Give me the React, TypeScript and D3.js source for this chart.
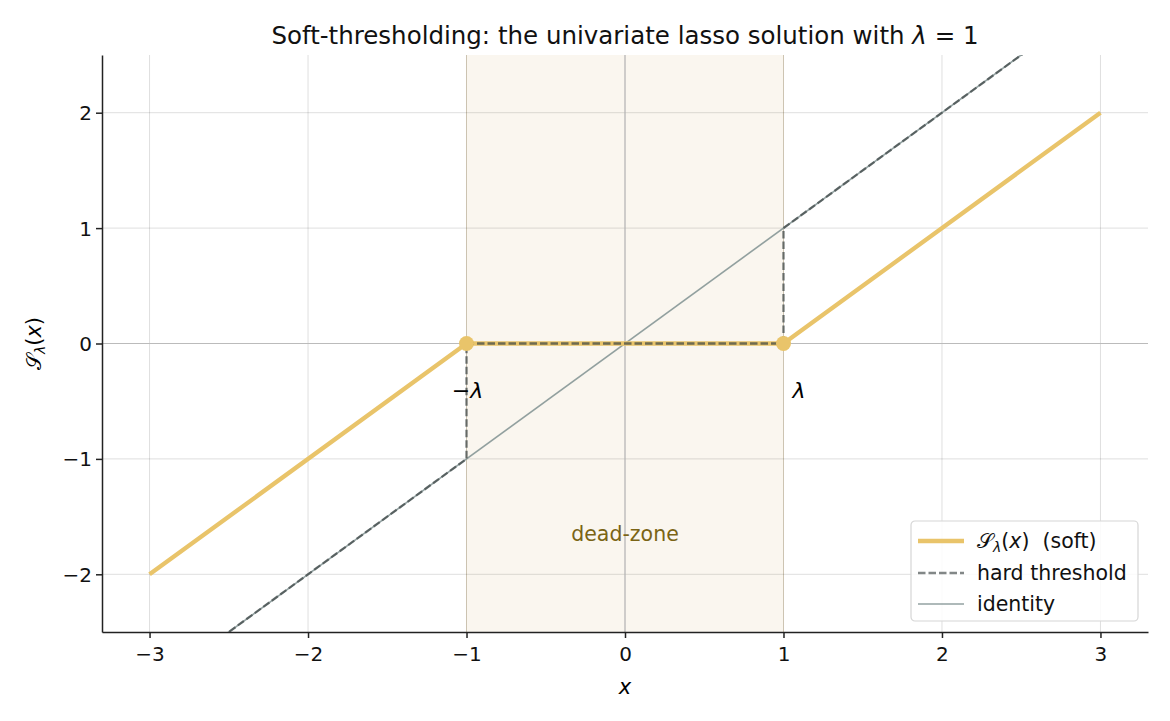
import * as d3 from "d3";
import React, { useEffect, useRef } from "react";

// data
const lambda = 1;
const xTicks = [-3, -2, -1, 0, 1, 2, 3];
const yTicks = [-2, -1, 0, 1, 2];
const softPoints = [
  [-3, -2],
  [-1, 0],
  [1, 0],
  [3, 2],
];
const hardLeft = [
  [-3.3, -3.3],
  [-1, -1],
  [-1, 0],
];
const hardMid = [
  [-1, 0],
  [1, 0],
];
const hardRight = [
  [1, 0],
  [1, 1],
  [3.3, 3.3],
];
const identityPoints = [
  [-3.3, -3.3],
  [3.3, 3.3],
];
const knots = [-lambda, lambda];

const W = 1170;
const H = 721;

export default function App() {
  const ref = useRef<SVGSVGElement>(null);

  useEffect(() => {
    const svg = d3.select(ref.current);
    svg.selectAll("*").remove();
    const margin = { top: 55, right: 22, bottom: 89, left: 102 };
    const width = W - margin.left - margin.right;
    const height = H - margin.top - margin.bottom;
    const font = "DejaVu Sans, sans-serif";

    const x = d3.scaleLinear().domain([-3.3, 3.3]).range([0, width]);
    const y = d3.scaleLinear().domain([-2.5, 2.5]).range([height, 0]);

    svg
      .append("defs")
      .append("clipPath")
      .attr("id", "plot-clip")
      .append("rect")
      .attr("width", width)
      .attr("height", height);

    const main = svg
      .append("g")
      .attr("transform", `translate(${margin.left},${margin.top})`);

    // dead zone shading
    main
      .append("rect")
      .attr("x", x(-lambda))
      .attr("y", 0)
      .attr("width", x(lambda) - x(-lambda))
      .attr("height", height)
      .attr("fill", "#faf6ef")
      .attr("stroke", "none");
    knots.forEach((k) => {
      main
        .append("line")
        .attr("x1", x(k))
        .attr("x2", x(k))
        .attr("y1", 0)
        .attr("y2", height)
        .attr("stroke", "#ebe1cc")
        .attr("stroke-width", 1);
    });

    // grid
    const grid = main.append("g").attr("class", "grid");
    grid
      .selectAll(".gx")
      .data(xTicks)
      .enter()
      .append("line")
      .attr("x1", (d) => x(d))
      .attr("x2", (d) => x(d))
      .attr("y1", 0)
      .attr("y2", height)
      .attr("stroke", "#000")
      .attr("stroke-opacity", 0.13)
      .attr("stroke-width", 1);
    grid
      .selectAll(".gy")
      .data(yTicks)
      .enter()
      .append("line")
      .attr("x1", 0)
      .attr("x2", width)
      .attr("y1", (d) => y(d))
      .attr("y2", (d) => y(d))
      .attr("stroke", "#000")
      .attr("stroke-opacity", 0.13)
      .attr("stroke-width", 1);

    // zero lines
    main
      .append("line")
      .attr("x1", 0)
      .attr("x2", width)
      .attr("y1", y(0))
      .attr("y2", y(0))
      .attr("stroke", "#bbbbbb")
      .attr("stroke-width", 1.2);
    main
      .append("line")
      .attr("x1", x(0))
      .attr("x2", x(0))
      .attr("y1", 0)
      .attr("y2", height)
      .attr("stroke", "#bbbbbb")
      .attr("stroke-width", 1.2);

    const line: any = d3
      .line()
      .x((d: any) => x(d[0]))
      .y((d: any) => y(d[1]));

    const plot = main.append("g").attr("clip-path", "url(#plot-clip)");

    // identity
    plot
      .append("path")
      .attr("d", line(identityPoints))
      .attr("fill", "none")
      .attr("stroke", "#7f9191")
      .attr("stroke-opacity", 0.85)
      .attr("stroke-width", 1.6);

    // soft threshold
    plot
      .append("path")
      .attr("d", line(softPoints))
      .attr("fill", "none")
      .attr("stroke", "#e9c46a")
      .attr("stroke-width", 4.3)
      .attr("stroke-linejoin", "round");

    // hard threshold
    [hardLeft, hardMid, hardRight].forEach((seg) => {
      plot
        .append("path")
        .attr("d", line(seg))
        .attr("fill", "none")
        .attr("stroke", "#3f4747")
        .attr("stroke-opacity", 0.72)
        .attr("stroke-width", 2.3)
        .attr("stroke-dasharray", "7.5,3");
    });

    // knots
    plot
      .selectAll(".knot")
      .data(knots)
      .enter()
      .append("circle")
      .attr("cx", (d) => x(d))
      .attr("cy", y(0))
      .attr("r", 7.5)
      .attr("fill", "#e9c46a");

    // lambda labels
    main
      .append("text")
      .attr("x", x(-lambda) + 1)
      .attr("y", y(-0.4) + 8)
      .attr("text-anchor", "middle")
      .attr("font-family", font)
      .attr("font-size", 22)
      .attr("fill", "#000")
      .html('−<tspan font-style="italic">λ</tspan>');
    main
      .append("text")
      .attr("x", x(lambda) + 9)
      .attr("y", y(-0.4) + 8)
      .attr("text-anchor", "start")
      .attr("font-family", font)
      .attr("font-size", 22)
      .attr("font-style", "italic")
      .attr("fill", "#000")
      .text("λ");

    main
      .append("text")
      .attr("x", x(0))
      .attr("y", y(-1.65) + 7)
      .attr("text-anchor", "middle")
      .attr("font-family", font)
      .attr("font-size", 20.5)
      .attr("fill", "#7a6415")
      .text("dead-zone");

    // axes
    const fmt = (d: any) => (d < 0 ? "−" + Math.abs(d) : String(d));
    const xAxis = main
      .append("g")
      .attr("transform", `translate(0,${height})`)
      .call(
        d3
          .axisBottom(x)
          .tickValues(xTicks)
          .tickFormat(fmt)
          .tickSize(6)
          .tickSizeOuter(0)
      );
    const yAxis = main
      .append("g")
      .call(
        d3
          .axisLeft(y)
          .tickValues(yTicks)
          .tickFormat(fmt)
          .tickSize(6)
          .tickSizeOuter(0)
      );
    [xAxis, yAxis].forEach((a) => {
      a.selectAll("path").attr("stroke", "#222").attr("stroke-width", 1.5);
      a.selectAll("line").attr("stroke", "#222").attr("stroke-width", 1.5);
      a.selectAll("text")
        .attr("font-family", font)
        .attr("font-size", 20)
        .attr("fill", "#111");
    });
    xAxis.selectAll("text").attr("y", 11).attr("dy", "0.9em");
    yAxis.selectAll("text").attr("x", -10).attr("dy", "0.35em");

    // axis labels
    svg
      .append("text")
      .attr("x", margin.left + x(0))
      .attr("y", 694)
      .attr("text-anchor", "middle")
      .attr("font-family", font)
      .attr("font-size", 21)
      .attr("font-style", "italic")
      .text("x");
    svg
      .append("text")
      .attr("transform", `translate(41,${margin.top + y(0)}) rotate(-90)`)
      .attr("text-anchor", "middle")
      .attr("font-family", font)
      .attr("font-size", 21)
      .html(
        '𝒮<tspan font-size="14" dy="4" font-style="italic">λ</tspan><tspan dy="-4">(</tspan><tspan font-style="italic">x</tspan>)'
      );

    // title
    svg
      .append("text")
      .attr("x", margin.left + width / 2)
      .attr("y", 44)
      .attr("text-anchor", "middle")
      .attr("font-family", font)
      .attr("font-size", 24.5)
      .attr("fill", "#111")
      .html(
        'Soft-thresholding: the univariate lasso solution with <tspan font-style="italic">λ</tspan> = 1'
      );

    // legend
    const lg = main
      .append("g")
      .attr("transform", `translate(${x(3.3) - 237},${y(-2.5) - 111})`);
    lg.append("rect")
      .attr("width", 227)
      .attr("height", 100)
      .attr("rx", 4)
      .attr("fill", "#fff")
      .attr("fill-opacity", 0.85)
      .attr("stroke", "#d6d6d6")
      .attr("stroke-width", 1.2);
    const items = [
      { kind: "soft", y: 20 },
      { kind: "hard", y: 52 },
      { kind: "identity", y: 83 },
    ];
    items.forEach((it) => {
      const l = lg
        .append("line")
        .attr("x1", 7)
        .attr("x2", 53)
        .attr("y1", it.y)
        .attr("y2", it.y);
      if (it.kind === "soft") {
        l.attr("stroke", "#e9c46a").attr("stroke-width", 4.3);
      } else if (it.kind === "hard") {
        l.attr("stroke", "#3f4747")
          .attr("stroke-opacity", 0.65)
          .attr("stroke-width", 2.3)
          .attr("stroke-dasharray", "7.5,3");
      } else {
        l.attr("stroke", "#7f9191")
          .attr("stroke-opacity", 0.85)
          .attr("stroke-width", 1.5);
      }
    });
    const lt = (yy: number) =>
      lg
        .append("text")
        .attr("x", 66)
        .attr("y", yy + 7)
        .attr("font-family", font)
        .attr("font-size", 20.5)
        .attr("fill", "#111");
    lt(20).html(
      '𝒮<tspan font-size="14" dy="4" font-style="italic">λ</tspan><tspan dy="-4">(</tspan><tspan font-style="italic">x</tspan>)\u00a0\u00a0(soft)'
    );
    lt(52).text("hard threshold");
    lt(83).text("identity");
  }, []);

  return (
    <svg
      ref={ref}
      width={W}
      height={H}
      style={{ display: "block", position: "absolute", left: 0, top: 0 }}
    />
  );
}
